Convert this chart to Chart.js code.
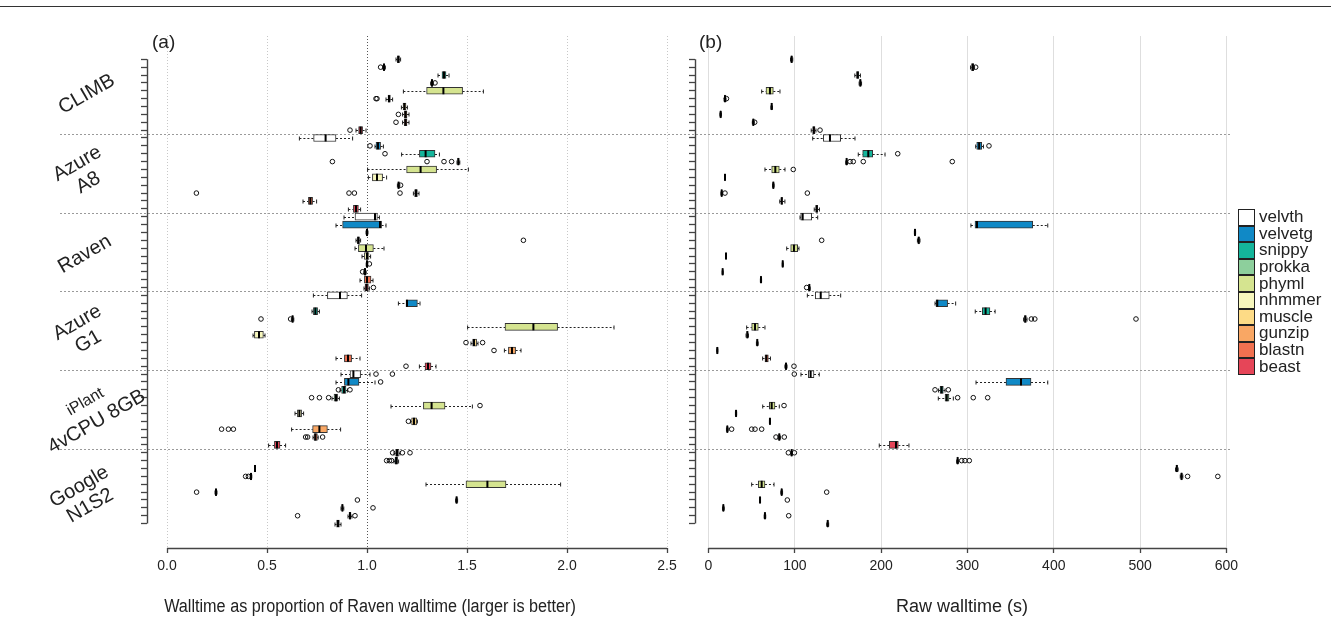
<!DOCTYPE html>
<html>
<head>
<meta charset="utf-8">
<script src="https://cdn.jsdelivr.net/npm/chart.js@4.4.1/dist/chart.umd.min.js"></script>
<style>
  body { margin: 0; background: #fff; }
  #figura { position: relative; width: 1331px; height: 640px; overflow: hidden;
            font-family: "Liberation Sans", Arial, sans-serif; color: #222; }
  #linhaTopo { position: absolute; left: 0; top: 6px; width: 1331px; border-top: 1px solid #333; }
  canvas { position: absolute; top: 0; }
  .painel { position: absolute; top: 31px; font-size: 19px; }
  .grupo { position: absolute; transform: translate(-50%, -50%) rotate(-30deg);
           font-size: 20px; line-height: 22px; text-align: center; white-space: nowrap; }
  .titulo { position: absolute; top: 596px; transform: translateX(-50%) scaleX(0.9); white-space: nowrap;
            font-size: 18px; }
  #legenda { position: absolute; left: 1238px; top: 209px; }
  .itemLeg { height: 16.6px; display: flex; align-items: center; }
  .caixaLeg { width: 17px; height: 16.6px; box-sizing: border-box; border: 1.3px solid #222; margin-right: 4px; }
  .itemLeg span { font-size: 17px; line-height: 16px; }
</style>
</head>
<body>
<div id="figura">
  <div id="linhaTopo"></div>
  <canvas id="graficoA" width="700" height="640" style="left:0"></canvas>
  <canvas id="graficoB" width="647" height="640" style="left:684px"></canvas>
  <div class="painel" style="left:152px">(a)</div>
  <div class="painel" style="left:699px">(b)</div>
  <div id="rotulos"></div>
  <div class="titulo" style="left:370px">Walltime as proportion of Raven walltime (larger is better)</div>
  <div class="titulo" style="left:962px; transform: translateX(-50%)">Raw walltime (s)</div>
  <div id="legenda"></div>
</div>
<script>
const plataformas = ['CLIMB', 'Azure\nA8', 'Raven', 'Azure\nG1', 'iPlant\n4vCPU 8GB', 'Google\nN1S2'];
const ferramentas = ['velvth', 'velvetg', 'snippy', 'prokka', 'phyml', 'nhmmer', 'muscle', 'gunzip', 'blastn', 'beast'];
const cores = ['#ffffff', '#1089c6', '#14b59b', '#8dcf9c', '#d5e490', '#f7f7bd', '#fddb86', '#f9a764', '#f17150', '#e64558'];

const ticksRazao = [0, 0.5, 1, 1.5, 2, 2.5];
const ticksTempo = [0, 100, 200, 300, 400, 500, 600];

// [whisker baixo, q1, mediana, q3, whisker alto] por linha (plataforma x ferramenta)
const razaoCaixas = [
  [1.145, 1.152, 1.157, 1.162, 1.168], [1.078, 1.082, 1.085, 1.088, 1.092], [1.355, 1.375, 1.385, 1.395, 1.41],
  [1.318, 1.322, 1.325, 1.328, 1.332], [1.182, 1.298, 1.382, 1.478, 1.582], [1.095, 1.105, 1.11, 1.117, 1.128],
  [1.172, 1.18, 1.187, 1.195, 1.202], [1.178, 1.186, 1.193, 1.2, 1.21], [1.178, 1.186, 1.193, 1.2, 1.21],
  [0.945, 0.958, 0.968, 0.978, 0.995],
  [0.662, 0.733, 0.793, 0.845, 0.928], [1.04, 1.045, 1.055, 1.068, 1.082], [1.173, 1.262, 1.293, 1.34, 1.362],
  [1.45, 1.453, 1.457, 1.46, 1.464], [1.003, 1.198, 1.268, 1.348, 1.507], [1.007, 1.027, 1.05, 1.078, 1.098],
  [1.152, 1.155, 1.158, 1.161, 1.164], [1.232, 1.238, 1.245, 1.252, 1.26], [0.68, 0.707, 0.717, 0.728, 0.748],
  [0.907, 0.932, 0.945, 0.957, 0.968],
  [0.885, 0.94, 1.04, 1.052, 1.062], [0.845, 0.878, 1.065, 1.073, 1.095], [0.995, 0.997, 1.0, 1.003, 1.005],
  [0.945, 0.952, 0.957, 0.962, 0.968], [0.94, 0.957, 0.995, 1.032, 1.085], [0.975, 0.987, 1.0, 1.01, 1.018],
  [0.996, 0.998, 1.0, 1.002, 1.004], [0.984, 0.987, 0.99, 0.993, 0.996], [0.965, 0.987, 1.0, 1.02, 1.03],
  [0.985, 0.99, 0.998, 1.007, 1.012],
  [0.732, 0.802, 0.865, 0.902, 0.973], [1.157, 1.195, 1.2, 1.252, 1.265], [0.725, 0.732, 0.742, 0.753, 0.762],
  [0.622, 0.625, 0.628, 0.631, 0.634], [1.503, 1.69, 1.832, 1.953, 2.235], [0.43, 0.437, 0.46, 0.482, 0.49],
  [1.52, 1.528, 1.535, 1.548, 1.555], [1.687, 1.707, 1.725, 1.743, 1.77], [0.845, 0.887, 0.905, 0.923, 0.965],
  [1.262, 1.29, 1.305, 1.32, 1.345],
  [0.87, 0.915, 0.932, 0.968, 1.015], [0.845, 0.887, 0.907, 0.96, 1.04], [0.865, 0.873, 0.885, 0.895, 0.902],
  [0.825, 0.835, 0.845, 0.853, 0.862], [1.12, 1.282, 1.323, 1.39, 1.527], [0.64, 0.652, 0.662, 0.673, 0.683],
  [1.218, 1.223, 1.235, 1.248, 1.252], [0.623, 0.728, 0.762, 0.802, 0.868], [0.73, 0.735, 0.742, 0.752, 0.756],
  [0.508, 0.537, 0.55, 0.565, 0.593],
  [1.135, 1.143, 1.15, 1.16, 1.165], [1.135, 1.14, 1.146, 1.153, 1.158], [0.438, 0.439, 0.44, 0.441, 0.442],
  [0.416, 0.418, 0.42, 0.422, 0.424], [1.295, 1.495, 1.602, 1.695, 1.968], [0.24, 0.242, 0.245, 0.248, 0.25],
  [1.443, 1.445, 1.448, 1.451, 1.453], [0.87, 0.874, 0.877, 0.88, 0.884], [0.905, 0.91, 0.915, 0.92, 0.925],
  [0.84, 0.848, 0.855, 0.862, 0.87]
];
const razaoOutliers = [
  [], [1.068], [], [1.34], [], [1.045, 1.05], [], [1.157], [1.145], [0.915],
  [], [1.015], [1.09], [0.827, 1.30, 1.385, 1.423], [], [], [1.168], [0.147, 0.91, 0.937, 1.165], [], [],
  [], [], [], [1.782], [], [], [1.012], [0.978], [], [1.032],
  [], [], [], [0.47, 0.618], [], [], [1.495, 1.578], [1.635], [], [1.195],
  [1.045, 1.127], [1.068], [0.857, 0.915], [0.723, 0.762, 0.808], [1.565], [], [1.207], [0.273, 0.307, 0.332], [0.693, 0.703, 0.778], [],
  [1.128, 1.177, 1.215], [1.098, 1.112, 1.123], [], [0.393, 0.407], [], [0.148], [0.952], [1.03], [0.653, 0.94], []
];

const tempoCaixas = [
  [95, 95.6, 96.3, 97, 97.6], [303.5, 304.8, 306, 307.2, 308.2], [169.5, 171.5, 172.8, 174.1, 176],
  [174.5, 175.2, 175.9, 176.6, 177.3], [61.6, 66.6, 71.2, 75.1, 82.8], [18, 18.5, 19.1, 19.7, 20.3],
  [72.3, 72.8, 73.2, 73.6, 74.1], [13.2, 13.6, 14.1, 14.6, 15], [50.8, 51.4, 51.9, 52.4, 53],
  [119, 120.7, 122, 123.4, 124.5],
  [120.7, 133, 140.7, 153.1, 169.7], [309.5, 310.7, 313.5, 316.5, 318.5], [173.5, 178.6, 185.1, 190.2, 204.5],
  [159, 159.5, 160, 160.5, 161], [65.4, 73.2, 77.4, 82, 88.6], [18.7, 18.9, 19.1, 19.3, 19.5],
  [74.2, 74.6, 75.1, 75.6, 76], [14.4, 14.8, 15.3, 15.8, 16.2], [82.5, 84, 84.8, 85.8, 88.5],
  [122.5, 124.2, 125.3, 126.5, 128.5],
  [106, 106.8, 109.1, 119.5, 126.5], [304, 308.7, 311, 375.6, 393], [238.5, 238.9, 239.2, 239.5, 239.9],
  [242, 242.8, 243.5, 244.3, 245], [90.6, 95.2, 99, 103.3, 104.8], [20, 20.1, 20.3, 20.5, 20.6],
  [85.4, 85.7, 86, 86.3, 86.6], [15.8, 16.1, 16.4, 16.7, 17], [60.1, 60.4, 60.8, 61.2, 61.5],
  [116, 116.4, 116.8, 117.3, 117.8],
  [114.5, 123.7, 130, 139.9, 153.1], [262.4, 263.5, 265, 277, 286.3], [309, 317.2, 321, 326, 332],
  [365, 366, 367, 368, 369], [44.2, 50, 53.9, 57.7, 65.4], [43.5, 44.3, 45, 45.7, 46.3],
  [55.5, 56, 56.5, 57, 57.5], [9.6, 9.9, 10.2, 10.5, 10.8], [62.7, 65.4, 67, 69.3, 71.8],
  [88.5, 89.2, 89.8, 90.4, 91],
  [107.1, 115.6, 118.3, 122.2, 128.3], [309.9, 344.6, 362, 373.6, 393], [266.5, 268.2, 270, 272, 274],
  [266.2, 274, 276, 278.6, 283.6], [62.8, 70.5, 73.2, 77, 82], [31.2, 31.5, 31.9, 32.3, 32.6],
  [70.6, 70.9, 71.2, 71.5, 71.8], [20.8, 21.3, 21.8, 22.3, 22.8], [80.5, 81.3, 82, 82.7, 83.5],
  [197.8, 209.4, 217.2, 219.9, 232.2],
  [95.5, 95.9, 96.3, 96.7, 97.1], [287.5, 288.1, 288.6, 289.1, 289.7], [541, 541.8, 542.5, 543.2, 544],
  [546.5, 547.3, 548, 548.7, 549.5], [50, 57.7, 61.6, 65.4, 75.9], [83.8, 84.3, 84.8, 85.3, 85.8],
  [59.3, 59.5, 59.7, 59.9, 60.1], [16.2, 16.7, 17.2, 17.7, 18.2], [64.5, 65, 65.4, 65.8, 66.3],
  [137, 137.6, 138.1, 138.6, 139.2]
];
const tempoOutliers = [
  [], [309.5], [], [], [], [20.8], [], [], [53.5], [129.2],
  [], [324.9], [219.2], [164, 167.7, 179.3, 282.4], [98.2], [], [], [19.1, 114.5], [], [],
  [], [], [], [131.1], [], [], [], [], [], [113.7],
  [], [], [], [374, 378, 495.2], [], [], [], [], [], [99],
  [99.4], [], [262.4, 277.8], [288.6, 306.7, 323.4], [87.5], [], [], [26.8, 50, 53.9, 61.6], [78.2, 87.8], [],
  [92.5, 99.5], [293.3, 297.1, 302.1], [], [555, 590], [], [136.9], [91.3], [], [92.9], []
];

const fonteTicks = "'Liberation Sans', Arial, sans-serif";
const nLinhas = plataformas.length * ferramentas.length;

function criarGrafico(idCanvas, caixas, outliers, cfg) {
  const plugin = {
    id: 'caixas_' + idCanvas,
    beforeDatasetsDraw(chart) {
      const { ctx, scales: { x, y } } = chart;
      ctx.save();
      // separadores entre plataformas
      ctx.strokeStyle = '#9a9a9a';
      ctx.lineWidth = 1;
      ctx.setLineDash([2, 2]);
      for (let g = 1; g < plataformas.length; g++) {
        const py = Math.round(y.getPixelForValue(g * ferramentas.length - 0.5)) + 0.5;
        ctx.beginPath(); ctx.moveTo(cfg.sepDe, py); ctx.lineTo(cfg.sepAte, py); ctx.stroke();
      }
      if (cfg.referencia != null) {
        const px = Math.round(x.getPixelForValue(cfg.referencia)) + 0.5;
        ctx.strokeStyle = '#555';
        ctx.setLineDash([1, 2]);
        ctx.beginPath(); ctx.moveTo(px, chart.chartArea.top); ctx.lineTo(px, chart.chartArea.bottom); ctx.stroke();
      }
      // bigodes tracejados
      ctx.strokeStyle = '#222';
      caixas.forEach(([lo, q1, , q3, hi], i) => {
        const py = Math.round(y.getPixelForValue(i)) + 0.5;
        const [pLo, p1, p3, pHi] = [lo, q1, q3, hi].map(v => x.getPixelForValue(v));
        ctx.setLineDash([2, 2]);
        ctx.beginPath();
        ctx.moveTo(pLo, py); ctx.lineTo(p1, py);
        ctx.moveTo(p3, py); ctx.lineTo(pHi, py);
        ctx.stroke();
        ctx.setLineDash([]);
        ctx.beginPath();
        ctx.moveTo(pLo, py - 2); ctx.lineTo(pLo, py + 2);
        ctx.moveTo(pHi, py - 2); ctx.lineTo(pHi, py + 2);
        ctx.stroke();
      });
      ctx.restore();
    },
    afterDatasetsDraw(chart) {
      const { ctx, scales: { x, y } } = chart;
      ctx.save();
      ctx.strokeStyle = '#000';
      ctx.lineWidth = 2;
      caixas.forEach(([, , med], i) => {
        const py = y.getPixelForValue(i);
        const px = x.getPixelForValue(med);
        ctx.beginPath(); ctx.moveTo(px, py - 3.5); ctx.lineTo(px, py + 3.5); ctx.stroke();
      });
      ctx.restore();
    },
    afterDraw(chart) {
      const { ctx, chartArea, scales: { x, y } } = chart;
      ctx.save();
      ctx.strokeStyle = '#444';
      ctx.lineWidth = 1.4;
      const eixoY = chartArea.left + 0.5;
      ctx.beginPath();
      ctx.moveTo(eixoY, y.getPixelForValue(0)); ctx.lineTo(eixoY, y.getPixelForValue(nLinhas - 1));
      const eixoX = chartArea.bottom + 0.5;
      ctx.moveTo(x.getPixelForValue(cfg.ticks[0]), eixoX);
      ctx.lineTo(x.getPixelForValue(cfg.ticks[cfg.ticks.length - 1]), eixoX);
      ctx.stroke();
      ctx.restore();
    }
  };

  return new Chart(document.getElementById(idCanvas), {
    type: 'bar',
    data: {
      datasets: [
        {
          type: 'scatter',
          data: outliers.flatMap((lista, i) => lista.map(v => ({ x: v, y: i }))),
          pointRadius: 2.3,
          pointBorderWidth: 1,
          pointBorderColor: '#111',
          pointBackgroundColor: 'rgba(255,255,255,0)',
          showLine: false
        },
        {
          type: 'bar',
          indexAxis: 'y',
          data: caixas.map(([, q1, , q3], i) => ({ x: [q1, q3], y: i })),
          backgroundColor: caixas.map((_, i) => cores[i % ferramentas.length]),
          borderColor: '#333',
          borderWidth: 1,
          borderSkipped: false,
          barThickness: 7
        }
      ]
    },
    plugins: [plugin],
    options: {
      responsive: false,
      animation: false,
      layout: { padding: { left: cfg.padEsq, right: cfg.padDir, top: 36, bottom: 0 } },
      plugins: { legend: { display: false }, tooltip: { enabled: false } },
      scales: {
        x: {
          type: 'linear',
          min: cfg.min,
          max: cfg.max,
          offset: false,
          beginAtZero: false,
          afterBuildTicks: s => { s.ticks = cfg.ticks.map(v => ({ value: v })); },
          afterFit: s => { s.height = 92; },
          ticks: {
            callback: cfg.formato,
            font: { family: fonteTicks, size: 14 },
            color: '#222',
            padding: 5,
            maxRotation: 0,
            autoSkip: false
          },
          grid: { offset: false, color: cfg.corGrade, lineWidth: 1, tickLength: 5, tickColor: '#444', tickWidth: 1.3 },
          border: { display: false, dash: cfg.tracoGrade }
        },
        y: {
          type: 'linear',
          reverse: true,
          min: -2.96,
          max: 62.1,
          offset: false,
          afterBuildTicks: s => { s.ticks = Array.from({ length: nLinhas }, (_, i) => ({ value: i })); },
          afterFit: s => { s.width = 6; },
          ticks: { display: false, autoSkip: false },
          grid: { drawOnChartArea: false, drawTicks: true, tickLength: 6, tickColor: '#444', tickWidth: 1.3, offset: false },
          border: { display: false }
        }
      }
    }
  });
}

criarGrafico('graficoA', razaoCaixas, razaoOutliers, {
  min: -0.1, max: 2.585, ticks: ticksRazao, formato: v => v.toFixed(1),
  padEsq: 141, padDir: 16, corGrade: '#c8c8c8', tracoGrade: [1, 2],
  referencia: 1, sepDe: 60, sepAte: 684
});

criarGrafico('graficoB', tempoCaixas, tempoOutliers, {
  min: -15.64, max: 609.9, ticks: ticksTempo, formato: v => String(v),
  padEsq: 5, padDir: 96, corGrade: '#dedede', tracoGrade: [],
  referencia: null, sepDe: 0, sepAte: 548
});

// rótulos das plataformas (texto girado)
const centrosRotulos = [[86, 93], [82, 172], [84, 253], [82, 331], [90, 410], [84, 495]];
const rotulosEl = document.getElementById('rotulos');
plataformas.forEach((nome, i) => {
  const div = document.createElement('div');
  div.className = 'grupo';
  div.style.left = centrosRotulos[i][0] + 'px';
  div.style.top = centrosRotulos[i][1] + 'px';
  const linhas = nome.split('\n');
  div.innerHTML = linhas.map((l, k) =>
    (nome.startsWith('iPlant') && k === 0) ? `<span style="font-size:16px">${l}</span>` : l
  ).join('<br>');
  rotulosEl.appendChild(div);
});

const legendaEl = document.getElementById('legenda');
ferramentas.forEach((nome, i) => {
  const item = document.createElement('div');
  item.className = 'itemLeg';
  item.innerHTML = `<div class="caixaLeg" style="background:${cores[i]}"></div><span>${nome}</span>`;
  legendaEl.appendChild(item);
});
</script>
</body>
</html>
